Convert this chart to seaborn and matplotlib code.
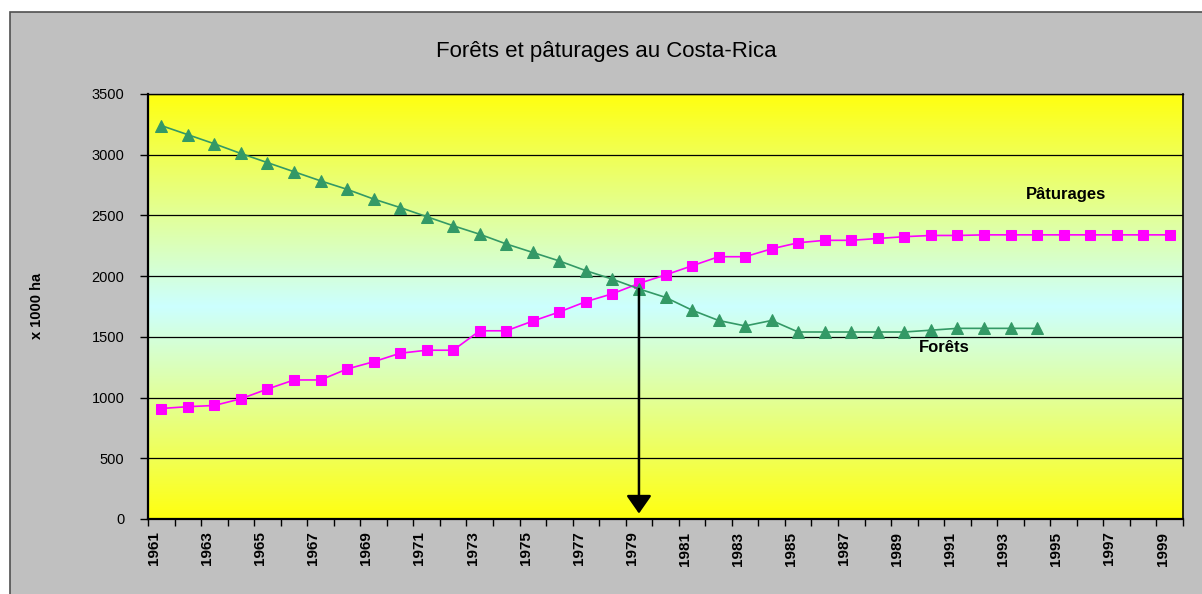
import numpy as np
import seaborn as sns
import matplotlib.pyplot as plt
from matplotlib.colors import LinearSegmentedColormap
from matplotlib.patches import Rectangle

# Data (x 1000 ha)
years = list(range(1961, 2000))
forets_years = list(range(1961, 1995))
forets = [3240, 3165, 3090, 3010, 2935, 2860, 2785, 2715, 2635, 2565,
          2490, 2415, 2345, 2265, 2195, 2125, 2045, 1975, 1895, 1825,
          1720, 1635, 1590, 1635, 1540, 1540, 1540, 1540, 1540, 1555,
          1570, 1570, 1570, 1570]
paturages = [910, 925, 935, 990, 1070, 1145, 1145, 1235, 1295, 1365,
             1390, 1390, 1550, 1550, 1630, 1705, 1790, 1855, 1940, 2010,
             2085, 2160, 2160, 2225, 2275, 2295, 2295, 2310, 2325, 2335,
             2335, 2340, 2340, 2340, 2340, 2340, 2340, 2340, 2340]
year_labels = [str(y) for y in years[::2]]
y_ticks = list(range(0, 3501, 500))
crossing_year = 1979

sns.set_style("white")
plt.rcParams['font.family'] = ['Liberation Sans', 'DejaVu Sans']
for key in ['text.color', 'axes.labelcolor', 'xtick.color', 'ytick.color']:
    plt.rcParams[key] = 'black'

W, H = 1202, 594
fig = plt.figure(figsize=(W / 100, H / 100), dpi=100)
fig.patch.set_facecolor('white')

# grey chart area with border
fig.patches.append(Rectangle((10 / W, -0.01), 1.0, 1 - 12 / H + 0.01,
                             transform=fig.transFigure, facecolor='#C0C0C0',
                             edgecolor='#505050', lw=1.2, zorder=-5))

ax = fig.add_axes([148 / W, 1 - 519 / H, (1183 - 148) / W, (519 - 94) / H])
ax.set_zorder(1)

# yellow -> cyan -> yellow background
cmap = LinearSegmentedColormap.from_list('bg', ['#FFFF10', '#CCFFFF', '#FFFF10'])
grad = np.linspace(0, 1, 256).reshape(-1, 1)
ax.imshow(grad, extent=[years[0] - 0.5, years[-1] + 0.5, 0, 3500],
          aspect='auto', cmap=cmap, origin='lower', zorder=0)

ax.set_axisbelow(True)
ax.yaxis.grid(True, color='black', lw=0.9)

sns.lineplot(x=years, y=paturages, ax=ax, color='#FF00FF', marker='s',
             markersize=7, markeredgecolor='#FF00FF', lw=1.2, zorder=3)
sns.lineplot(x=forets_years, y=forets, ax=ax, color='#339966', marker='^',
             markersize=8, markeredgecolor='#339966', lw=1.2, zorder=3)

# arrow from the crossing down to the axis
cross_val = forets[forets_years.index(crossing_year)]
ax.annotate('', xy=(crossing_year, 45), xytext=(crossing_year, cross_val),
            arrowprops=dict(arrowstyle='-|>,head_width=0.35,head_length=0.5',
                            color='black', lw=1.8, mutation_scale=22,
                            shrinkA=0, shrinkB=0),
            zorder=4)

ax.text(1995.1, 2676, 'Pâturages', ha='center', va='center',
        fontweight='bold', fontsize=12)
ax.text(1990.5, 1416, 'Forêts', ha='center', va='center',
        fontweight='bold', fontsize=12)

ax.set_xlim(years[0] - 0.5, years[-1] + 0.5)
ax.set_ylim(0, 3500)
ax.set_yticks(y_ticks)
ax.set_yticklabels([str(v) for v in y_ticks])
ax.tick_params(axis='y', direction='out', length=6, width=1, labelsize=10.5,
               pad=11, left=True)

ax.set_xticks([y - 0.27 for y in years[::2]])
ax.set_xticklabels(year_labels, rotation=90, fontweight='bold', fontsize=11)
ax.set_xticks(np.arange(years[0] - 0.5, years[-1] + 1), minor=True)
ax.tick_params(axis='x', which='major', length=0, pad=9)
ax.tick_params(axis='x', which='minor', direction='out', length=5, width=1,
               bottom=True)

for side in ['left', 'bottom', 'top', 'right']:
    ax.spines[side].set_visible(True)
    ax.spines[side].set_color('black')
ax.spines['left'].set_linewidth(1.6)
ax.spines['bottom'].set_linewidth(1.6)
ax.spines['top'].set_linewidth(1.0)
ax.spines['right'].set_linewidth(1.2)
ax.set_xlabel('')
ax.set_ylabel('')

fig.text(606 / W, 1 - 52 / H, 'Forêts et pâturages au Costa-Rica',
         ha='center', va='center', fontsize=16)
fig.text(37 / W, 1 - 306 / H, 'x 1000 ha', rotation=90, ha='center',
         va='center', fontweight='bold', fontsize=10.5)

fig.savefig('out.png', dpi=100)
plt.close(fig)
